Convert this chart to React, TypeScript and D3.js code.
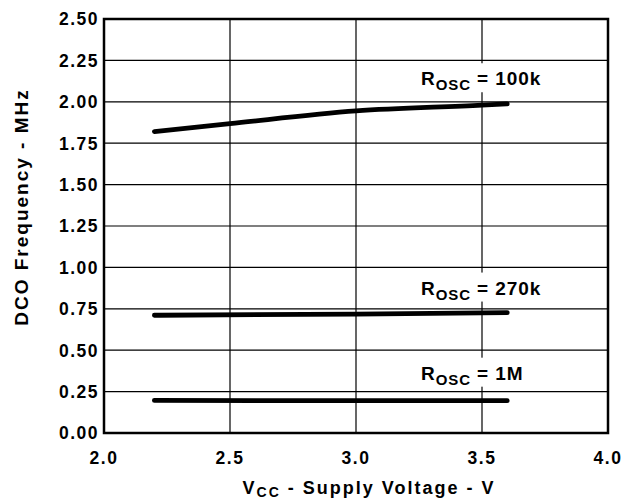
import React from "react";
import * as d3 from "d3";

const xTicks = [2.0, 2.5, 3.0, 3.5, 4.0];
const yTicks = [0, 0.25, 0.5, 0.75, 1.0, 1.25, 1.5, 1.75, 2.0, 2.25, 2.5];

const vcc100k = [2.2, 2.5, 3.0, 3.5, 3.6];
const f100k = [1.82, 1.868, 1.945, 1.98, 1.988];
const vcc270k = [2.2, 3.0, 3.6];
const f270k = [0.711, 0.718, 0.727];
const vcc1M = [2.2, 3.0, 3.6];
const f1M = [0.197, 0.195, 0.195];

const seriesLabels = ["100k", "270k", "1M"];
const labelAnchors = [
  { v: 3.27, f: 2.1 },
  { v: 3.27, f: 0.836 },
  { v: 3.27, f: 0.322 },
];

const W = 623;
const H = 501;
const margin = { left: 104, right: 15, top: 19, bottom: 68 };
const FONT = "'Liberation Sans', Arial, Helvetica, sans-serif";

export default function App() {
  const x = d3.scaleLinear().domain([2.0, 4.0]).range([margin.left, W - margin.right]);
  const y = d3.scaleLinear().domain([0, 2.5]).range([H - margin.bottom, margin.top]);
  const line = d3
    .line<[number, number]>()
    .x((d) => x(d[0]))
    .y((d) => y(d[1]))
    .curve(d3.curveMonotoneX);

  const series = [
    d3.zip(vcc100k, f100k) as [number, number][],
    d3.zip(vcc270k, f270k) as [number, number][],
    d3.zip(vcc1M, f1M) as [number, number][],
  ];

  const x0 = x(2.0), x1 = x(4.0), y0 = y(0), y1 = y(2.5);

  return (
    <svg
      width={W}
      height={H}
      style={{ position: "absolute", left: 0, top: 0, background: "#fff" }}
      fontFamily={FONT}
      fontWeight="bold"
    >
      <rect x={0} y={0} width={W} height={H} fill="#fff" />
      {/* gridlines */}
      {xTicks.slice(1, -1).map((t) => (
        <line key={"gx" + t} x1={x(t)} x2={x(t)} y1={y0} y2={y1} stroke="#000" strokeWidth={1.2} />
      ))}
      {/* labels with white background (break vertical gridlines) */}
      {seriesLabels.map((s, i) => {
        const lx = x(labelAnchors[i].v) - 3;
        const ly = y(labelAnchors[i].f);
        return (
          <g key={"lab" + s}>
            <rect x={lx - 4} y={ly - 22} width={s === "1M" ? 108 : 132} height={29} fill="#fff" />
            <text x={lx} y={ly} fontSize={19} fill="#000" letterSpacing={0.9}>
              R
              <tspan fontSize={15} dy={5}>OSC</tspan>
              <tspan dy={-5}> = {s}</tspan>
            </text>
          </g>
        );
      })}
      {yTicks.slice(1, -1).map((t) => (
        <line key={"gy" + t} x1={x0} x2={x1} y1={y(t)} y2={y(t)} stroke="#000" strokeWidth={1.2} />
      ))}
      {/* frame */}
      <rect x={x0} y={y1} width={x1 - x0} height={y0 - y1} fill="none" stroke="#000" strokeWidth={2.5} />
      {/* data lines */}
      {series.map((d, i) => (
        <path key={"s" + i} d={line(d) || ""} fill="none" stroke="#000" strokeWidth={4.8} strokeLinecap="round" />
      ))}
      {/* y tick labels */}
      {yTicks.map((t) => (
        <text key={"yt" + t} x={x0 - 5} y={y(t)} dy="0.36em" textAnchor="end" fontSize={17.5} letterSpacing={1.5}>
          {t.toFixed(2)}
        </text>
      ))}
      {/* x tick labels */}
      {xTicks.map((t) => (
        <text key={"xt" + t} x={x(t)} y={y0 + 31} textAnchor="middle" fontSize={17.5} letterSpacing={1.5}>
          {t.toFixed(1)}
        </text>
      ))}
      {/* axis titles */}
      <text x={369} y={H - 7} textAnchor="middle" fontSize={18} letterSpacing={2}>
        V<tspan fontSize={14} dy={3}>CC</tspan>
        <tspan dy={-3}> - Supply Voltage - V</tspan>
      </text>
      <text
        transform={`translate(28, 207) rotate(-90)`}
        textAnchor="middle"
        fontSize={19}
        letterSpacing={2}
      >
        DCO Frequency - MHz
      </text>
    </svg>
  );
}
